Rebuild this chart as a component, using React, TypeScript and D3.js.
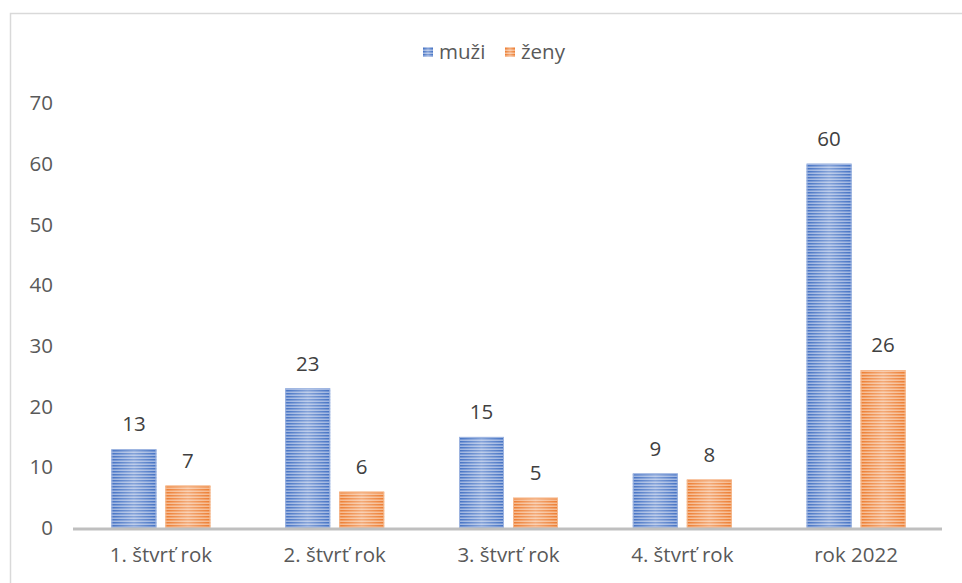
import React from 'react';
import * as d3 from 'd3';

const categories = ['1. štvrť rok', '2. štvrť rok', '3. štvrť rok', '4. štvrť rok', 'rok 2022'];
const seriesNames = ['muži', 'ženy'];
const muzi = [13, 23, 15, 9, 60];
const zeny = [7, 6, 5, 8, 26];
const yTicks = [0, 10, 20, 30, 40, 50, 60, 70];

const W = 962;
const H = 583;
const colors = ['#4472C4', '#ED7D31'];
const lightStripe = ['#9DB4E0', '#F6B98E'];
const font = "'Open Sans', sans-serif";
const fs = 20.5;

export default function App() {
  const x = d3.scaleBand().domain(categories).range([73, 942]).paddingInner(0).paddingOuter(0);
  const y = d3.scaleLinear().domain([0, 70]).range([528, 103]);
  const barW = 45;
  const gap = 9;
  const series = [muzi, zeny];
  const legendX = [423, 505];

  return (
    <svg width={W} height={H} style={{ position: 'absolute', left: 0, top: 0, background: '#fff' }}>
      <defs>
        {colors.map((c, i) => (
          <pattern key={i} id={`stripe${i}`} patternUnits="userSpaceOnUse" width={10} height={3}>
            <rect width={10} height={3} fill={c} />
            <rect y={1.5} width={10} height={1.5} fill={lightStripe[i]} />
          </pattern>
        ))}
        <linearGradient id="shine" x1="0" x2="1" y1="0" y2="0">
          <stop offset="0" stopColor="#fff" stopOpacity={0} />
          <stop offset="0.5" stopColor="#fff" stopOpacity={0.35} />
          <stop offset="1" stopColor="#fff" stopOpacity={0} />
        </linearGradient>
      </defs>

      <rect x={10.5} y={13.5} width={W} height={H} fill="#fff" stroke="#D9D9D9" strokeWidth={1.5} />

      {/* legend */}
      <g fontFamily={font} fontSize={fs} fill="#595959">
        {seriesNames.map((n, i) => {
          const lx = legendX[i];
          return (
            <g key={n}>
              <rect x={lx} y={47} width={10} height={10} fill={`url(#stripe${i})`} />
              <rect x={lx} y={47} width={10} height={10} fill="url(#shine)" />
              <text x={lx + 16} y={52} dy="0.35em">{n}</text>
            </g>
          );
        })}
      </g>

      {/* y axis labels */}
      <g fontFamily={font} fontSize={fs} fill="#595959" textAnchor="end">
        {yTicks.map((t) => (
          <text key={t} x={53} y={y(t)} dy="0.35em">{t}</text>
        ))}
      </g>

      {/* bars */}
      {categories.map((cat, ci) => {
        const cx = (x(cat) as number) + x.bandwidth() / 2 + 1;
        return (
          <g key={cat}>
            {series.map((s, si) => {
              const bx = si === 0 ? cx - gap / 2 - barW : cx + gap / 2;
              const top = y(s[ci]);
              return (
                <g key={si}>
                  <rect x={bx} y={top} width={barW} height={y(0) - top} fill={`url(#stripe${si})`} />
                  <rect x={bx} y={top} width={barW} height={y(0) - top} fill="url(#shine)" />
                  <rect x={bx + 0.5} y={top + 0.5} width={barW - 1} height={y(0) - top - 1} fill="none" stroke={lightStripe[si]} strokeWidth={1} />
                  <text x={bx + barW / 2} y={top - 25} dy="0.35em" textAnchor="middle" fontFamily={font} fontSize={fs} fill="#404040">{s[ci]}</text>
                </g>
              );
            })}
            <text x={cx} y={555} dy="0.35em" textAnchor="middle" fontFamily={font} fontSize={fs} fill="#595959">{cat}</text>
          </g>
        );
      })}

      {/* axis line */}
      <line x1={73} x2={942} y1={y(0) + 1} y2={y(0) + 1} stroke="#BFBFBF" strokeWidth={3} />
    </svg>
  );
}
